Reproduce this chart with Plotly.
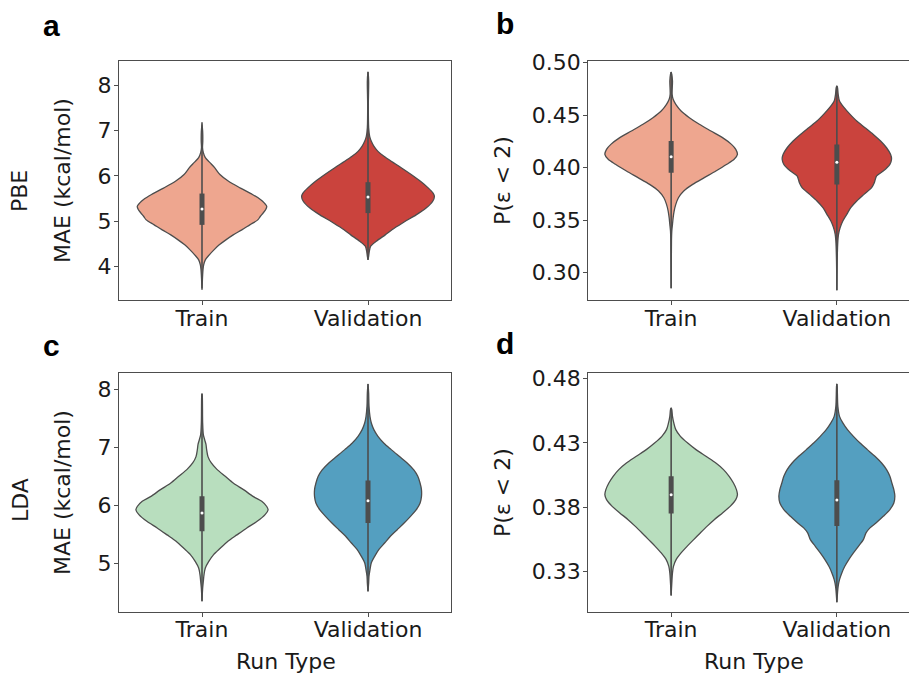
import plotly.graph_objects as go

# ---------------- data ----------------
categories = ["Train", "Validation"]

# Panel a (PBE, MAE)
a_train_y = [7.13, 6.98, 6.76, 6.62, 6.51, 6.40, 6.29, 6.18, 6.03, 5.88, 5.73, 5.59, 5.48, 5.40, 5.33,
             5.26, 5.18, 5.11, 5.03, 4.92, 4.81, 4.70, 4.59, 4.48, 4.37, 4.26, 4.15, 4.04, 3.93, 3.82, 3.67, 3.53]
a_train_d = [0, 0.01, 0.012, 0.008, 0.02, 0.05, 0.12, 0.19, 0.27, 0.40, 0.58, 0.76, 0.88, 0.94, 0.975,
             0.96, 0.92, 0.88, 0.84, 0.72, 0.60, 0.47, 0.36, 0.26, 0.18, 0.11, 0.05, 0.025, 0.015, 0.01, 0.005, 0]
a_val_y = [8.29, 8.09, 7.57, 7.06, 6.87, 6.76, 6.65, 6.54, 6.43, 6.32, 6.18, 6.03, 5.88, 5.73, 5.62, 5.55,
           5.44, 5.29, 5.14, 4.99, 4.85, 4.70, 4.56, 4.45, 4.34, 4.23, 4.15]
a_val_d = [0, 0.01, 0.005, 0.01, 0.025, 0.05, 0.09, 0.15, 0.24, 0.35, 0.50, 0.65, 0.79, 0.91, 0.98, 1.0,
           0.975, 0.875, 0.725, 0.55, 0.40, 0.26, 0.125, 0.04, 0.02, 0.01, 0]
a_stats = {"Train": dict(lo=3.49, q1=4.92, med=5.27, q3=5.61, hi=7.18),
           "Validation": dict(lo=4.15, q1=5.18, med=5.535, q3=5.86, hi=8.29)}

# Panel b (PBE, P(eps<2))
b_train_y = [0.4911, 0.4889, 0.4826, 0.4699, 0.4651, 0.4603, 0.4540, 0.4476, 0.4413, 0.4349, 0.4286, 0.4222,
             0.4175, 0.4127, 0.4080, 0.4032, 0.3968, 0.3905, 0.3841, 0.3778, 0.3714, 0.3651, 0.3587, 0.3524,
             0.3460, 0.3397, 0.3302, 0.3111, 0.2851]
b_train_d = [0, 0.01, 0.02, 0.015, 0.03, 0.07, 0.15, 0.275, 0.425, 0.60, 0.775, 0.91, 0.975, 1.0, 0.95,
             0.84, 0.675, 0.50, 0.325, 0.19, 0.11, 0.07, 0.045, 0.03, 0.02, 0.01, 0.005, 0.003, 0]
b_val_y = [0.4778, 0.4762, 0.4699, 0.4635, 0.4572, 0.4508, 0.4444, 0.4381, 0.4317, 0.4254, 0.4190, 0.4127,
           0.4080, 0.4032, 0.3968, 0.3921, 0.3857, 0.3810, 0.3746, 0.3683, 0.3619, 0.3556, 0.3492, 0.3429,
           0.3365, 0.3302, 0.3111, 0.2832]
b_val_d = [0, 0.01, 0.02, 0.04, 0.11, 0.20, 0.30, 0.425, 0.55, 0.66, 0.75, 0.81, 0.825, 0.80, 0.70, 0.60,
           0.565, 0.525, 0.41, 0.30, 0.21, 0.15, 0.09, 0.05, 0.025, 0.015, 0.005, 0]
b_stats = {"Train": dict(lo=0.2851, q1=0.3952, med=0.4105, q3=0.4254, hi=0.4911),
           "Validation": dict(lo=0.2832, q1=0.3841, med=0.4051, q3=0.4222, hi=0.4778)}

# Panel c (LDA, MAE)
c_train_y = [7.925, 7.88, 7.42, 7.22, 7.13, 7.05, 6.96, 6.84, 6.73, 6.62, 6.50, 6.38, 6.27, 6.15, 6.07, 5.98,
             5.92, 5.84, 5.72, 5.61, 5.49, 5.38, 5.26, 5.15, 5.03, 4.92, 4.80, 4.69, 4.57, 4.345]
c_train_d = [0, 0.005, 0.01, 0.02, 0.04, 0.06, 0.07, 0.09, 0.14, 0.225, 0.35, 0.475, 0.625, 0.775, 0.90,
             0.975, 0.995, 0.95, 0.825, 0.675, 0.525, 0.39, 0.275, 0.175, 0.10, 0.05, 0.03, 0.02, 0.01, 0]
c_val_y = [8.091, 7.936, 7.71, 7.53, 7.42, 7.30, 7.19, 7.07, 6.96, 6.84, 6.73, 6.61, 6.50, 6.38, 6.27, 6.15,
           6.04, 5.92, 5.81, 5.69, 5.58, 5.47, 5.35, 5.24, 5.12, 5.01, 4.89, 4.78, 4.66, 4.517]
c_val_d = [0, 0.01, 0.015, 0.03, 0.05, 0.09, 0.15, 0.24, 0.35, 0.475, 0.59, 0.69, 0.75, 0.785, 0.805, 0.805,
           0.785, 0.725, 0.64, 0.54, 0.44, 0.34, 0.25, 0.165, 0.10, 0.05, 0.03, 0.015, 0.01, 0]
c_stats = {"Train": dict(lo=4.345, q1=5.552, med=5.868, q3=6.155, hi=7.925),
           "Validation": dict(lo=4.517, q1=5.694, med=6.08, q3=6.43, hi=8.091)}

# Panel d (LDA, P(eps<2))
d_train_y = [0.4570, 0.4557, 0.4505, 0.4454, 0.4402, 0.4350, 0.4298, 0.4247, 0.4195, 0.4143, 0.4092, 0.4040,
             0.3988, 0.3937, 0.3898, 0.3859, 0.3807, 0.3756, 0.3704, 0.3652, 0.3601, 0.3549, 0.3497, 0.3446,
             0.3394, 0.3342, 0.3291, 0.3213, 0.3115]
d_train_d = [0, 0.01, 0.02, 0.04, 0.07, 0.14, 0.25, 0.375, 0.525, 0.675, 0.79, 0.875, 0.94, 0.985, 1.0,
             0.975, 0.89, 0.775, 0.65, 0.54, 0.44, 0.34, 0.24, 0.15, 0.075, 0.035, 0.02, 0.01, 0]
d_val_y = [0.4756, 0.4738, 0.4583, 0.4505, 0.4454, 0.4402, 0.4350, 0.4298, 0.4247, 0.4195, 0.4143, 0.4092,
           0.4040, 0.3988, 0.3937, 0.3885, 0.3833, 0.3782, 0.3730, 0.3678, 0.3640, 0.3601, 0.3549, 0.3497,
           0.3446, 0.3394, 0.3342, 0.3291, 0.3239, 0.3188, 0.3136, 0.3063]
d_val_d = [0, 0.005, 0.015, 0.04, 0.09, 0.16, 0.25, 0.35, 0.46, 0.575, 0.675, 0.75, 0.80, 0.83, 0.86, 0.875,
           0.86, 0.80, 0.70, 0.59, 0.50, 0.44, 0.40, 0.325, 0.25, 0.18, 0.12, 0.075, 0.04, 0.02, 0.01, 0]
d_stats = {"Train": dict(lo=0.3115, q1=0.3751, med=0.3898, q3=0.4040, hi=0.4570),
           "Validation": dict(lo=0.3063, q1=0.3654, med=0.3857, q3=0.4010, hi=0.4756)}

a_ticks = [4, 5, 6, 7, 8]
b_ticks = [0.30, 0.35, 0.40, 0.45, 0.50]
c_ticks = [5, 6, 7, 8]
d_ticks = [0.33, 0.38, 0.43, 0.48]

panel_letters = ["a", "b", "c", "d"]
row_labels = ["PBE", "LDA"]
mae_title = "MAE (kcal/mol)"
p_title = "P(ε < 2)"
x_title = "Run Type"

# ---------------- style ----------------
W, H = 909, 674
HALF = 0.4
EDGE = "#4d4d4d"
TXT = "#1a1a1a"
FONT = "DejaVu Sans"
FS = 22
reds = ["#EEA68F", "#CA433D"]
gnbu = ["#B8DEBE", "#549FC0"]

panels = [
    dict(xa="x", ya="y", yl=[a_train_y, a_val_y], dl=[a_train_d, a_val_d], st=a_stats, col=reds),
    dict(xa="x2", ya="y2", yl=[b_train_y, b_val_y], dl=[b_train_d, b_val_d], st=b_stats, col=reds),
    dict(xa="x3", ya="y3", yl=[c_train_y, c_val_y], dl=[c_train_d, c_val_d], st=c_stats, col=gnbu),
    dict(xa="x4", ya="y4", yl=[d_train_y, d_val_y], dl=[d_train_d, d_val_d], st=d_stats, col=gnbu),
]

fig = go.Figure()
for p in panels:
    for i, cat in enumerate(categories):
        ys, ds = p["yl"][i], p["dl"][i]
        xs = [i + HALF * d for d in ds] + [i - HALF * d for d in reversed(ds)]
        yy = list(ys) + list(reversed(ys))
        fig.add_trace(go.Scatter(x=xs, y=yy, xaxis=p["xa"], yaxis=p["ya"], mode="lines",
                                 fill="toself", fillcolor=p["col"][i],
                                 line=dict(color=EDGE, width=1.3, shape="spline", smoothing=0.8),
                                 showlegend=False, hoverinfo="skip"))
        s = p["st"][cat]
        fig.add_trace(go.Scatter(x=[i, i], y=[s["lo"], s["hi"]], xaxis=p["xa"], yaxis=p["ya"],
                                 mode="lines", line=dict(color=EDGE, width=1.6),
                                 showlegend=False, hoverinfo="skip"))
        fig.add_trace(go.Scatter(x=[i, i], y=[s["q1"], s["q3"]], xaxis=p["xa"], yaxis=p["ya"],
                                 mode="lines", line=dict(color=EDGE, width=5),
                                 showlegend=False, hoverinfo="skip"))
        fig.add_trace(go.Scatter(x=[i], y=[s["med"]], xaxis=p["xa"], yaxis=p["ya"],
                                 mode="markers", marker=dict(color="white", size=3, line=dict(width=0)),
                                 showlegend=False, hoverinfo="skip"))

xdom_l = [119 / W, 451 / W]
xdom_r = [588.3 / W, 1.0]
ydom_t = [1 - 300 / H, 1 - 61 / H]
ydom_b = [1 - 611.7 / H, 1 - 373.3 / H]

def xaxis(dom, rng, anchor):
    return dict(domain=dom, range=rng, anchor=anchor, tickvals=list(range(len(categories))),
                ticktext=categories, showline=True, linecolor=EDGE, linewidth=1.3, mirror=True,
                ticks="outside", ticklen=4, tickwidth=1.2, tickcolor=EDGE, showgrid=False,
                zeroline=False, automargin=False, ticklabelstandoff=-6,
                tickfont=dict(family=FONT, size=FS, color=TXT), fixedrange=True)

def yaxis(dom, rng, anchor, ticks, fmt, mirror):
    return dict(domain=dom, range=rng, anchor=anchor, tickvals=ticks, tickformat=fmt,
                showline=True, linecolor=EDGE, linewidth=1.3, mirror=mirror,
                ticks="outside", ticklen=4, tickwidth=1.2, tickcolor=EDGE, showgrid=False,
                zeroline=False, automargin=False, ticklabelstandoff=-2,
                tickfont=dict(family=FONT, size=FS, color=TXT), fixedrange=True)

fig.update_layout(
    template="none",
    width=W, height=H, margin=dict(l=0, r=0, t=0, b=0, pad=0), autosize=False,
    paper_bgcolor="white", plot_bgcolor="white",
    xaxis=xaxis(xdom_l, [-0.5, 1.5], "y"),
    xaxis2=xaxis(xdom_r, [-0.5, 1.4354], "y2"),
    xaxis3=xaxis(xdom_l, [-0.5, 1.5], "y3"),
    xaxis4=xaxis(xdom_r, [-0.5, 1.4354], "y4"),
    yaxis=yaxis(ydom_t, [3.265, 8.53], "x", a_ticks, "d", True),
    yaxis2=yaxis(ydom_t, [0.274, 0.5016], "x2", b_ticks, ".2f", False),
    yaxis3=yaxis(ydom_b, [4.166, 8.276], "x3", c_ticks, "d", True),
    yaxis4=yaxis(ydom_b, [0.299, 0.4839], "x4", d_ticks, ".2f", False),
)

def ann(text, x, y, size=FS, angle=0, bold=False, family=FONT, xanchor="center", yanchor="middle"):
    fig.add_annotation(text=f"<b>{text}</b>" if bold else text, x=x / W, y=1 - y / H,
                       xref="paper", yref="paper", showarrow=False, textangle=angle,
                       xanchor=xanchor, yanchor=yanchor, borderpad=0,
                       font=dict(family=family, size=size, color="black" if bold else TXT))

# panel letters
ann(panel_letters[0], 42, 25, size=30, bold=True, family="Liberation Sans", xanchor="left")
ann(panel_letters[1], 495, 23, size=30, bold=True, family="Liberation Sans", xanchor="left")
ann(panel_letters[2], 42, 345, size=30, bold=True, family="Liberation Sans", xanchor="left")
ann(panel_letters[3], 495, 343, size=30, bold=True, family="Liberation Sans", xanchor="left")

# y titles
ann(row_labels[0], 20, 191, angle=-90)
ann(mae_title, 62, 181, angle=-90)
ann(row_labels[1], 20, 500, angle=-90)
ann(mae_title, 62, 493, angle=-90)
ann(p_title, 502, 181, angle=-90)
ann(p_title, 502, 493, angle=-90)

# x titles
ann(x_title, 286, 661)
ann(x_title, 754, 661)

fig.write_html("out.html")
